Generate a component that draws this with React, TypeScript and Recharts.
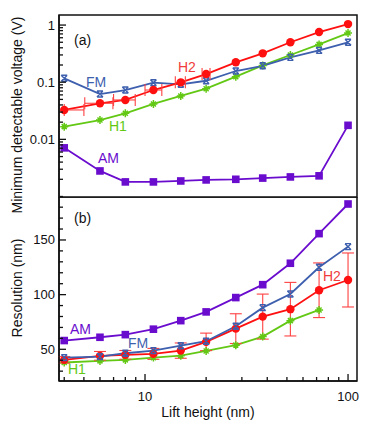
import { ComposedChart, Line, Scatter, XAxis, YAxis, ErrorBar, ReferenceArea } from 'recharts';

// lift heights (nm) shared by both panels
const liftHeight = [4, 6, 8, 11, 15, 20, 28, 38, 52, 72, 100];

// (a) minimum detectable voltage (V)
const voltAM = [0.0071, 0.0028, 0.0018, 0.0018, 0.00187, 0.00195, 0.002, 0.0021, 0.0022, 0.0023, 0.0176];
const voltFM = [0.117, 0.062, 0.073, 0.098, 0.092, 0.106, 0.157, 0.194, 0.272, 0.36, 0.5];
const voltH1 = [0.0167, 0.0218, 0.0286, 0.0416, 0.0574, 0.077, 0.125, 0.197, 0.299, 0.459, 0.725];
const voltH2 = [0.0327, 0.0428, 0.0489, 0.073, 0.0995, 0.139, 0.223, 0.32, 0.5, 0.755, 1.04];
// lift height uncertainty on the H2 points (nm, [minus, plus])
const heightErrH2 = [[0, 1], [0.95, 0.95], [1, 0.95], [1, 1.1], [0.9, 0.8], [0.9, 0.9]];

// (b) resolution (nm)
const resAM = [58.0, 61.0, 63.4, 68.4, 76.2, 84.2, 97.3, 109.1, 128.7, 155.8, 182.9];
const resFM = [42.4, 43.3, 46.4, 48.8, 53.3, 57.4, 71.1, 88.1, 100.6, 125.0, 143.9];
const resH1 = [37.9, 39.4, 40.3, 42.4, 44.2, 48.5, 53.8, 61.6, 76.2, 86.0, null];
const resH2 = [40.3, 44.0, 44.9, 45.8, 48.8, 56.8, 68.9, 79.9, 86.7, 104.0, 113.4];
const resErrH2 = [3, 4, 4, 5, 7, 8, 13.6, 20.6, 24.5, 25, 24.7];

const xTicks = [4, 5, 6, 7, 8, 9, 10, 20, 30, 40, 50, 60, 70, 80, 90, 100];
const xLabels = [10, 100];
const voltTicks = [0.001, 0.01, 0.1].flatMap(d => [1, 2, 3, 4, 5, 6, 7, 8, 9].map(m => +(m * d).toPrecision(3))).concat([1]);
const voltLabels = [0.01, 0.1, 1];
const resTicks = [30, 40, 50, 60, 70, 80, 90, 100, 110, 120, 130, 140, 150, 160, 170, 180];
const resLabels = [50, 100, 150];

const RED = '#ff1010';
const BLUE = '#3d5fae';
const GREEN = '#62c814';
const PURPLE = '#6a0cce';
const FONT = '"Liberation Sans", Arial, sans-serif';

const topData = liftHeight.map((x, i) => ({ x, am: voltAM[i], fm: voltFM[i], h1: voltH1[i], h2: voltH2[i] }));
const topErrData = heightErrH2.map((e, i) => ({ x: liftHeight[i], v: voltH2[i], e }));
const bottomData = liftHeight.map((x, i) => ({ x, am: resAM[i], fm: resFM[i], h1: resH1[i], h2: resH2[i], h2err: resErrH2[i] }));

const X_DOMAIN = [3.77, 110.7];
const VOLT_DOMAIN = [0.00098, 1.5];
const RES_DOMAIN = [21, 189.3];

// side: which frame edge the tick sits on; ticks point into the plot
function makeTick(side: 'bottom' | 'top' | 'left' | 'right', majors: number[], labels: number[]) {
  return (props: any) => {
    const { x, y, payload, index } = props;
    const v = payload.value;
    const major = majors.some(m => Math.abs(m - v) < 1e-9);
    const len = major ? 7 : 4;
    const showLabel = labels.some(m => Math.abs(m - v) < 1e-9);
    let line;
    if (side === 'bottom') line = <line x1={x} x2={x} y1={y} y2={y - len} />;
    else if (side === 'top') line = <line x1={x} x2={x} y1={y} y2={y + len} />;
    else if (side === 'left') line = <line x1={x} x2={x + len} y1={y} y2={y} />;
    else line = <line x1={x} x2={x - len} y1={y} y2={y} />;
    return (
      <g key={`t-${side}-${index}`} stroke="#111" strokeWidth={1.3}>
        {line}
        {showLabel && side === 'bottom' && (
          <text x={x} y={y + 20} textAnchor="middle" stroke="none" fill="#111" fontSize={13} fontFamily={FONT}>{v}</text>
        )}
        {showLabel && side === 'left' && (
          <text x={x - 4} y={y + 4.5} textAnchor="end" stroke="none" fill="#111" fontSize={13} fontFamily={FONT}>{v}</text>
        )}
      </g>
    );
  };
}

const circleDot = (props: any) => {
  const { cx, cy, index } = props;
  if (cy == null) return <g key={`c${index}`} />;
  return <circle key={`c${index}`} cx={cx} cy={cy} r={4.2} fill={RED} />;
};
const squareDot = (props: any) => {
  const { cx, cy, index } = props;
  if (cy == null) return <g key={`s${index}`} />;
  return <rect key={`s${index}`} x={cx - 3.8} y={cy - 3.8} width={7.6} height={7.6} fill={PURPLE} />;
};
const crossDot = (props: any) => {
  const { cx, cy, index } = props;
  if (cy == null) return <g key={`x${index}`} />;
  return (
    <path key={`x${index}`} d={`M${cx - 3},${cy - 3}L${cx + 3},${cy + 3}M${cx - 3},${cy + 3}L${cx + 3},${cy - 3}M${cx - 3},${cy - 3}h6M${cx - 3},${cy + 3}h6`}
      stroke={BLUE} strokeWidth={1.4} fill="none" />
  );
};
const starDot = (props: any) => {
  const { cx, cy, index } = props;
  if (cy == null) return <g key={`p${index}`} />;
  return (
    <path key={`p${index}`} d={`M${cx},${cy - 4}V${cy + 4}M${cx - 4},${cy}H${cx + 4}M${cx - 2.5},${cy - 2.5}L${cx + 2.5},${cy + 2.5}M${cx - 2.5},${cy + 2.5}L${cx + 2.5},${cy - 2.5}`}
      stroke={GREEN} strokeWidth={1.5} fill="none" />
  );
};

export default function App() {
  const axisLine = { stroke: '#111', strokeWidth: 1.5 };
  return (
    <div style={{ position: 'absolute', left: 0, top: 0, width: 374, height: 431, background: '#fff', fontFamily: FONT }}>
      <div style={{ position: 'absolute', left: 0, top: 0 }}>
        <ComposedChart width={374} height={200} data={topData} margin={{ top: 15, right: 17, bottom: 3, left: 0 }}>
          <XAxis dataKey="x" type="number" scale="log" domain={X_DOMAIN} allowDataOverflow ticks={xTicks} interval={0}
            height={0} tickSize={0} tickMargin={0} tickLine={false} axisLine={axisLine} tick={makeTick('bottom', xLabels, [])} />
          <XAxis xAxisId="top" orientation="top" dataKey="x" type="number" scale="log" domain={X_DOMAIN} allowDataOverflow ticks={xTicks} interval={0}
            height={0} tickSize={0} tickMargin={0} tickLine={false} axisLine={axisLine} tick={makeTick('top', xLabels, [])} />
          <YAxis type="number" scale="log" domain={VOLT_DOMAIN} allowDataOverflow ticks={voltTicks} interval={0} width={59}
            tickSize={0} tickMargin={0} tickLine={false} axisLine={axisLine} tick={makeTick('left', voltLabels, voltLabels)} />
          <YAxis yAxisId="right" orientation="right" type="number" scale="log" domain={VOLT_DOMAIN} allowDataOverflow ticks={voltTicks} interval={0} width={0}
            tickSize={0} tickMargin={0} tickLine={false} axisLine={axisLine} tick={makeTick('right', voltLabels, [])} />
          <ReferenceArea x1={X_DOMAIN[0]} x2={X_DOMAIN[1]} y1={VOLT_DOMAIN[0]} y2={VOLT_DOMAIN[1]} fill="none" fillOpacity={0} stroke="#111" strokeWidth={1.5} ifOverflow="visible" />
          <Line dataKey="am" stroke={PURPLE} strokeWidth={1.8} dot={squareDot} isAnimationActive={false} />
          <Line dataKey="h1" stroke={GREEN} strokeWidth={1.8} dot={starDot} isAnimationActive={false} />
          <Line dataKey="fm" stroke={BLUE} strokeWidth={1.8} dot={crossDot} isAnimationActive={false} />
          <Line dataKey="h2" stroke={RED} strokeWidth={1.8} dot={circleDot} isAnimationActive={false} />
          <Scatter data={topErrData} dataKey="v" shape={() => <g />} isAnimationActive={false}>
            <ErrorBar dataKey="e" direction="x" width={6} stroke="#ff4040" strokeWidth={1.1} />
          </Scatter>
        </ComposedChart>
      </div>
      <div style={{ position: 'absolute', left: 0, top: 197 }}>
        <ComposedChart width={374} height={234} data={bottomData} margin={{ top: 0, right: 17, bottom: 0, left: 0 }}>
          <XAxis dataKey="x" type="number" scale="log" domain={X_DOMAIN} allowDataOverflow ticks={xTicks} interval={0}
            height={50} tickSize={0} tickMargin={0} tickLine={false} axisLine={axisLine} tick={makeTick('bottom', xLabels, xLabels)} />
          <XAxis xAxisId="top" orientation="top" dataKey="x" type="number" scale="log" domain={X_DOMAIN} allowDataOverflow ticks={xTicks} interval={0}
            height={0} tickSize={0} tickMargin={0} tickLine={false} axisLine={axisLine} tick={makeTick('top', xLabels, [])} />
          <YAxis type="number" domain={RES_DOMAIN} allowDataOverflow ticks={resTicks} interval={0} width={59}
            tickSize={0} tickMargin={0} tickLine={false} axisLine={axisLine} tick={makeTick('left', resLabels, resLabels)} />
          <YAxis yAxisId="right" orientation="right" type="number" domain={RES_DOMAIN} allowDataOverflow ticks={resTicks} interval={0} width={0}
            tickSize={0} tickMargin={0} tickLine={false} axisLine={axisLine} tick={makeTick('right', resLabels, [])} />
          <ReferenceArea x1={X_DOMAIN[0]} x2={X_DOMAIN[1]} y1={RES_DOMAIN[0]} y2={RES_DOMAIN[1]} fill="none" fillOpacity={0} stroke="#111" strokeWidth={1.5} ifOverflow="visible" />
          <Line dataKey="am" stroke={PURPLE} strokeWidth={1.8} dot={squareDot} isAnimationActive={false} />
          <Line dataKey="h1" stroke={GREEN} strokeWidth={1.8} dot={starDot} isAnimationActive={false} />
          <Line dataKey="h2" stroke={RED} strokeWidth={1.8} dot={circleDot} isAnimationActive={false}>
            <ErrorBar dataKey="h2err" direction="y" width={6} stroke="#ff4040" strokeWidth={1.1} />
          </Line>
          <Line dataKey="fm" stroke={BLUE} strokeWidth={1.8} dot={crossDot} isAnimationActive={false} />
        </ComposedChart>
      </div>
      <svg width={374} height={431} style={{ position: 'absolute', left: 0, top: 0, pointerEvents: 'none' }} fontFamily={FONT}>
        <text x={17} y={115} transform="rotate(-90 17 115)" textAnchor="middle" dominantBaseline="central" fontSize={14} fill="#111">Minimum detectable voltage (V)</text>
        <text x={17} y={288} transform="rotate(-90 17 288)" textAnchor="middle" dominantBaseline="central" fontSize={14} fill="#111">Resolution (nm)</text>
        <text x={208} y={417} textAnchor="middle" fontSize={14} fill="#111">Lift height (nm)</text>
        <text x={74} y={45} fontSize={14} fill="#111">(a)</text>
        <text x={74} y={223} fontSize={14} fill="#111">(b)</text>
        <text x={86} y={87} fontSize={14} fill={BLUE}>FM</text>
        <text x={178} y={72} fontSize={14} fill="#f03c3c">H2</text>
        <text x={109} y={131} fontSize={14} fill={GREEN}>H1</text>
        <text x={98} y={163} fontSize={14} fill={PURPLE}>AM</text>
        <text x={70} y={334} fontSize={14} fill={PURPLE}>AM</text>
        <text x={128} y={348} fontSize={14} fill={BLUE}>FM</text>
        <text x={68} y={374} fontSize={14} fill={GREEN}>H1</text>
        <text x={323} y={281} fontSize={14} fill="#f03c3c">H2</text>
      </svg>
    </div>
  );
}
